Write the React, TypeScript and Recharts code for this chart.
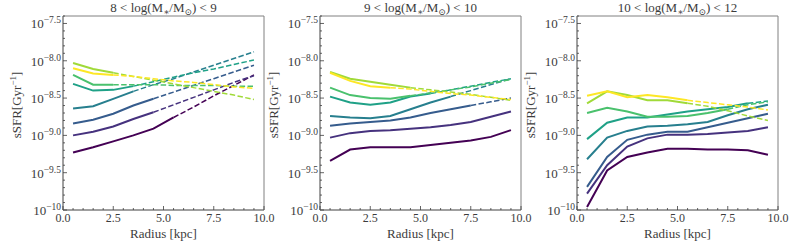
import { LineChart, Line, XAxis, YAxis, ReferenceArea } from 'recharts'

// radial bins (kpc)
const radius = [0.5, 1.5, 2.5, 3.5, 4.5, 5.5, 6.5, 7.5, 8.5, 9.5]

// viridis, one colour per curve (dark -> light)
const colors = ['#440154', '#46327e', '#365c8d', '#277f8e', '#1fa187', '#4ac16d', '#a0da39', '#fde725']

// panel titles: [lower mass, upper mass]
const massBins = [
  ['8', '9'],
  ['9', '10'],
  ['10', '12'],
]

// log10 sSFR [Gyr^-1], one row per curve, low mass panel
const lowMassSsfr = [
  [-9.23, -9.16, -9.08, -9.0, -8.91, -8.76, -8.62, -8.47, -8.33, -8.19],
  [-9.0, -8.95, -8.88, -8.78, -8.69, -8.59, -8.49, -8.39, -8.29, -8.2],
  [-8.84, -8.79, -8.71, -8.6, -8.51, -8.42, -8.33, -8.24, -8.15, -8.06],
  [-8.64, -8.61, -8.51, -8.41, -8.32, -8.24, -8.15, -8.06, -7.97, -7.88],
  [-8.31, -8.4, -8.39, -8.34, -8.28, -8.22, -8.16, -8.11, -8.05, -7.99],
  [-8.19, -8.32, -8.32, -8.32, -8.32, -8.33, -8.33, -8.33, -8.34, -8.34],
  [-8.03, -8.11, -8.16, -8.21, -8.26, -8.31, -8.36, -8.41, -8.46, -8.52],
  [-8.1, -8.17, -8.19, -8.21, -8.24, -8.27, -8.29, -8.32, -8.35, -8.37],
]
// last radial bin drawn solid (rest dashed)
const lowMassSolidEnd = [5, 4, 4, 3, 3, 2, 2, 2]

const midMassSsfr = [
  [-9.34, -9.19, -9.16, -9.16, -9.16, -9.13, -9.1, -9.07, -9.02, -8.93],
  [-9.03, -8.97, -8.94, -8.93, -8.91, -8.89, -8.86, -8.82, -8.75, -8.68],
  [-8.87, -8.84, -8.82, -8.8, -8.76, -8.7, -8.65, -8.6, -8.55, -8.5],
  [-8.74, -8.76, -8.77, -8.74, -8.65, -8.56, -8.48, -8.4, -8.32, -8.24],
  [-8.48, -8.56, -8.59, -8.56, -8.48, -8.44, -8.39, -8.34, -8.29, -8.24],
  [-8.36, -8.46, -8.5, -8.51, -8.47, -8.43, -8.39, -8.35, -8.3, -8.25],
  [-8.15, -8.24, -8.28, -8.32, -8.36, -8.39, -8.42, -8.45, -8.49, -8.53],
  [-8.16, -8.27, -8.34, -8.36, -8.38, -8.41, -8.44, -8.46, -8.49, -8.52],
]
const midMassSolidEnd = [9, 9, 7, 6, 5, 4, 4, 3]

const highMassSsfr = [
  [-9.96, -9.47, -9.29, -9.23, -9.18, -9.18, -9.19, -9.19, -9.2, -9.26],
  [-9.78, -9.4, -9.15, -9.04, -8.99, -8.99, -8.98, -8.96, -8.94, -8.89],
  [-9.69, -9.29, -9.06, -8.99, -8.95, -8.95, -8.89, -8.83, -8.77, -8.71],
  [-9.32, -9.03, -8.94, -8.88, -8.87, -8.85, -8.82, -8.73, -8.65, -8.59],
  [-9.05, -8.83, -8.76, -8.76, -8.72, -8.68, -8.65, -8.62, -8.57, -8.54],
  [-8.7, -8.63, -8.68, -8.75, -8.75, -8.74, -8.7, -8.65, -8.59, -8.55],
  [-8.57, -8.41, -8.46, -8.53, -8.53, -8.57, -8.61, -8.67, -8.74, -8.8],
  [-8.47, -8.41, -8.49, -8.46, -8.49, -8.53, -8.56, -8.59, -8.62, -8.66],
]
const highMassSolidEnd = [9, 9, 9, 9, 8, 7, 5, 5]

const xTickLabels = ['0.0', '2.5', '5.0', '7.5', '10.0']
const yTickLabels = ['\u221210', '\u22129.5', '\u22129.0', '\u22128.5', '\u22128.0', '\u22127.5']

const FONT = '"Liberation Serif", "DejaVu Serif", serif'
const INK = '#3c3c3c'
const SPINE = '#808080'
const Y_DOMAIN = [-10, -7.4]

// tick positions: minor every 0.5 kpc / 0.1 dex
const xTicks = Array.from({ length: 21 }, (_, i) => i * 0.5)
const yTicks = Array.from({ length: 27 }, (_, i) => Math.round((-10 + i * 0.1) * 10) / 10)

function buildRows(ssfr: number[][], solidEnd: number[]) {
  return radius.map((r, i) => {
    const row: Record<string, number | null> = { r }
    ssfr.forEach((vals, k) => {
      const end = solidEnd[k]
      row[`s${k}`] = i <= end ? vals[i] : null
      row[`d${k}`] = end < vals.length - 1 && i >= end ? vals[i] : null
    })
    return row
  })
}

function XTick(props: any) {
  const { x, y, payload } = props
  const v = payload.value
  const majorIdx = Math.round(v / 2.5)
  const major = Math.abs(v - majorIdx * 2.5) < 1e-6
  return (
    <g>
      <line x1={x} x2={x} y1={y} y2={y - (major ? 4 : 2)} stroke={INK} strokeWidth={0.8} />
      {major && (
        <text x={x} y={y + 12} textAnchor="middle" fontSize={12} fill={INK} fontFamily={FONT}>
          {xTickLabels[majorIdx]}
        </text>
      )}
    </g>
  )
}

function YTick(props: any) {
  const { x, y, payload } = props
  const v = payload.value
  const idx = Math.round((v + 10) * 2)
  const major = Math.abs(v + 10 - idx / 2) < 1e-6
  return (
    <g>
      <line x1={x} x2={x + (major ? 4 : 2)} y1={y} y2={y} stroke={INK} strokeWidth={0.8} />
      {major && (
        <text x={x - 2} y={y + 5} textAnchor="end" fontSize={13} fill={INK} fontFamily={FONT}>
          10
          <tspan dy={-5} fontSize={9.5}>
            {yTickLabels[idx]}
          </tspan>
        </text>
      )}
    </g>
  )
}

function Panel({ ssfr, solidEnd, bin }: { ssfr: number[][]; solidEnd: number[]; bin: string[] }) {
  const rows = buildRows(ssfr, solidEnd)
  return (
    <LineChart width={282} height={248} data={rows} margin={{ top: 16, right: 18, bottom: 0, left: 0 }}>
      <XAxis
        type="number"
        dataKey="r"
        domain={[0, 10]}
        ticks={xTicks}
        interval={0}
        tickSize={0}
        tickMargin={0}
        tickLine={false}
        tick={<XTick />}
        height={38}
        stroke={SPINE}
        allowDataOverflow
        label={(p: any) => {
          const vb = p.viewBox
          return (
            <text x={vb.x + vb.width / 2} y={vb.y + 27.5} textAnchor="middle" fontSize={13} fill={INK} fontFamily={FONT}>
              Radius [kpc]
            </text>
          )
        }}
      />
      <YAxis
        type="number"
        domain={Y_DOMAIN}
        ticks={yTicks}
        interval={0}
        tickSize={0}
        tickMargin={0}
        tickLine={false}
        tick={<YTick />}
        width={63}
        stroke={SPINE}
        allowDataOverflow
        label={(p: any) => {
          const vb = p.viewBox
          const cx = vb.x + vb.width - 47
          const cy = vb.y + vb.height / 2 - 8
          return (
            <text
              x={cx}
              y={cy}
              transform={`rotate(-90, ${cx}, ${cy})`}
              dy={4.5}
              textAnchor="middle"
              fontSize={13}
              fill={INK}
              fontFamily={FONT}
            >
              sSFR[Gyr
              <tspan dy={-5} fontSize={9}>
                {'\u22121'}
              </tspan>
              <tspan dy={5}>]</tspan>
            </text>
          )
        }}
      />
      <ReferenceArea
        x1={0}
        x2={10}
        y1={Y_DOMAIN[0]}
        y2={Y_DOMAIN[1]}
        fill="none"
        stroke={SPINE}
        strokeWidth={1}
        label={(p: any) => {
          const vb = p.viewBox
          return (
            <text x={vb.x + vb.width / 2} y={vb.y - 4} textAnchor="middle" fontSize={13} fill={INK} fontFamily={FONT}>
              {`${bin[0]} < log(M`}
              <tspan dy={3} fontSize={9}>
                {'\u2217'}
              </tspan>
              <tspan dy={-3}>/M</tspan>
              <tspan dy={3} fontSize={9}>
                {'\u2299'}
              </tspan>
              <tspan dy={-3}>{`) < ${bin[1]}`}</tspan>
            </text>
          )
        }}
      />
      {ssfr.map((_, k) => [
        <Line
          key={`s${k}`}
          dataKey={`s${k}`}
          stroke={colors[k]}
          strokeWidth={2}
          dot={false}
          activeDot={false}
          isAnimationActive={false}
        />,
        <Line
          key={`d${k}`}
          dataKey={`d${k}`}
          stroke={colors[k]}
          strokeWidth={1.5}
          strokeDasharray="5.5 2.4"
          dot={false}
          activeDot={false}
          isAnimationActive={false}
        />,
      ])}
    </LineChart>
  )
}

export default function App() {
  const panels = [
    { ssfr: lowMassSsfr, solidEnd: lowMassSolidEnd },
    { ssfr: midMassSsfr, solidEnd: midMassSolidEnd },
    { ssfr: highMassSsfr, solidEnd: highMassSolidEnd },
  ]
  return (
    <div
      style={{ position: 'absolute', left: 0, top: 0, width: 793, height: 248, background: '#fff', overflow: 'hidden' }}
    >
      {panels.map((p, i) => (
        <div key={i} style={{ position: 'absolute', left: i * 257, top: 0 }}>
          <Panel ssfr={p.ssfr} solidEnd={p.solidEnd} bin={massBins[i]} />
        </div>
      ))}
    </div>
  )
}
